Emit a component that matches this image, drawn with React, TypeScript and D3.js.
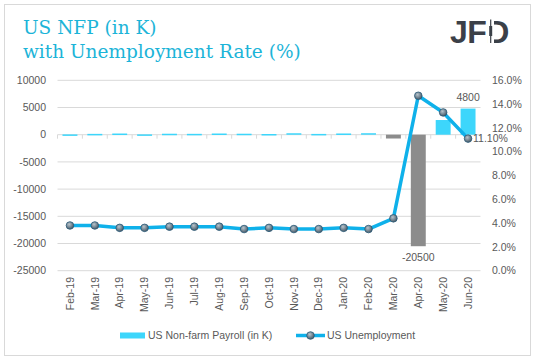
import React from "react";
import * as d3 from "d3";

const categories = ["Feb-19","Mar-19","Apr-19","May-19","Jun-19","Jul-19","Aug-19","Sep-19","Oct-19","Nov-19","Dec-19","Jan-20","Feb-20","Mar-20","Apr-20","May-20","Jun-20"];
const nfp = [56, 153, 216, 62, 178, 159, 219, 180, 128, 266, 145, 225, 273, -701, -20500, 2699, 4800];
const unemployment = [3.8, 3.8, 3.6, 3.6, 3.7, 3.7, 3.7, 3.5, 3.6, 3.5, 3.5, 3.6, 3.5, 4.4, 14.7, 13.3, 11.1];
const leftTicks = [10000, 5000, 0, -5000, -10000, -15000, -20000, -25000];
const rightTicks = [0, 2, 4, 6, 8, 10, 12, 14, 16];

export default function App() {
  const W = 536, H = 361;
  const left = 57.5, right = 480.5, top = 80.3, bottom = 270.7;
  const x = d3.scaleBand<string>().domain(categories).range([left, right]).paddingInner(0.4).paddingOuter(0.2);
  const xc = d3.scaleBand<string>().domain(categories).range([left, right]);
  const yL = d3.scaleLinear().domain([-25000, 10000]).range([bottom, top]);
  const yR = d3.scaleLinear().domain([0, 16]).range([bottom, top]);
  const line = d3.line<number>().x((_, i) => (xc(categories[i]) as number) + xc.bandwidth() / 2).y(d => yR(d));
  const font = "'Liberation Sans', Arial, sans-serif";
  const txt = "#595959";
  const fs = 10.5;
  return (
    <svg width={W} height={H} style={{ position: "absolute", left: 0, top: 0 }}>
      <defs>
        <radialGradient id="mk" cx="40%" cy="35%" r="70%">
          <stop offset="0%" stopColor="#b8c4cc" />
          <stop offset="60%" stopColor="#6d7f8c" />
          <stop offset="100%" stopColor="#3e4f5c" />
        </radialGradient>
      </defs>
      <rect x={0} y={0} width={W} height={H} fill="#fff" />
      <rect x={4.5} y={4.5} width={526} height={351} fill="none" stroke="#d9d9d9" />
      <text x={23} y={34} fontFamily="'DejaVu Serif', serif" fontSize={18.5} fill="#1cb4d8">US NFP (in K)</text>
      <text x={23} y={58} fontFamily="'DejaVu Serif', serif" fontSize={18.5} fill="#1cb4d8">with Unemployment Rate (%)</text>
      <text x={450} y={43} fontFamily={font} fontWeight="bold" fontSize={32} fill="#3b4048" letterSpacing={-0.5}>JFD</text>
      <rect x={487.5} y={19} width={6.5} height={25} fill="#fff" />
      <line x1={490.7} x2={490.7} y1={19.5} y2={43} stroke="#3b4048" strokeWidth={1.2} />
      <rect x={489.2} y={26} width={3} height={10} fill="#3b4048" />
      {leftTicks.map(t => (
        <g key={t}>
          {t !== 0 && <line x1={left} x2={right} y1={yL(t)} y2={yL(t)} stroke="#d9d9d9" strokeWidth={1} />}
          <text x={46} y={yL(t)} dy="0.35em" textAnchor="end" fontFamily={font} fontSize={fs} fill={txt}>{t}</text>
        </g>
      ))}
      {rightTicks.map(t => (
        <text key={t} x={492} y={yR(t)} dy="0.35em" fontFamily={font} fontSize={fs} fill={txt}>{t.toFixed(1) + "%"}</text>
      ))}
      <line x1={left} x2={right} y1={yL(0)} y2={yL(0)} stroke="#d9d9d9" />
      {categories.map((c) => (
        <line key={"tk" + c} x1={(xc(c) as number)} x2={(xc(c) as number)} y1={yL(0)} y2={yL(0) + 4} stroke="#d9d9d9" />
      ))}
      <line x1={right} x2={right} y1={yL(0)} y2={yL(0) + 4} stroke="#d9d9d9" />
      {nfp.map((v, i) => (
        <rect key={"b" + i} x={x(categories[i])} width={x.bandwidth()} y={Math.min(yL(v), yL(0))} height={Math.max(1.5, Math.abs(yL(v) - yL(0)))} fill={v < 0 ? "#8c8c8c" : "#3dd6fb"} />
      ))}
      <path d={line(unemployment) as string} fill="none" stroke="#0fb1ea" strokeWidth={3.5} strokeLinejoin="round" />
      {unemployment.map((v, i) => (
        <circle key={"m" + i} cx={(xc(categories[i]) as number) + xc.bandwidth() / 2} cy={yR(v)} r={3.8} fill="url(#mk)" stroke="#2a5a78" strokeWidth={0.8} />
      ))}
      <text x={(x("Jun-20") as number) + x.bandwidth() / 2} y={yL(4800) - 8} textAnchor="middle" fontFamily={font} fontSize={fs} fill={txt}>4800</text>
      <text x={(x("Apr-20") as number) + x.bandwidth() / 2} y={yL(-20500) + 15} textAnchor="middle" fontFamily={font} fontSize={fs} fill={txt}>-20500</text>
      <text x={(xc("Jun-20") as number) + xc.bandwidth() / 2 + 5} y={yR(11.1)} dy="0.35em" fontFamily={font} fontSize={fs} fill={txt}>11.10%</text>
      {categories.map(c => {
        const cx = (xc(c) as number) + xc.bandwidth() / 2;
        return (
          <text key={"l" + c} transform={`translate(${cx},${277}) rotate(-90)`} textAnchor="end" dy="0.35em" fontFamily={font} fontSize={fs} fill={txt}>{c}</text>
        );
      })}
      <rect x={120} y={332.5} width={25} height={6} fill="#3dd6fb" />
      <text x={148} y={335.5} dy="0.35em" fontFamily={font} fontSize={fs} fill={txt}>US Non-farm Payroll (in K)</text>
      <line x1={296} x2={325} y1={335.5} y2={335.5} stroke="#0fb1ea" strokeWidth={3.5} />
      <circle cx={310.5} cy={335.5} r={3.8} fill="url(#mk)" stroke="#2a5a78" strokeWidth={0.8} />
      <text x={327} y={335.5} dy="0.35em" fontFamily={font} fontSize={fs} fill={txt}>US Unemployment</text>
    </svg>
  );
}
